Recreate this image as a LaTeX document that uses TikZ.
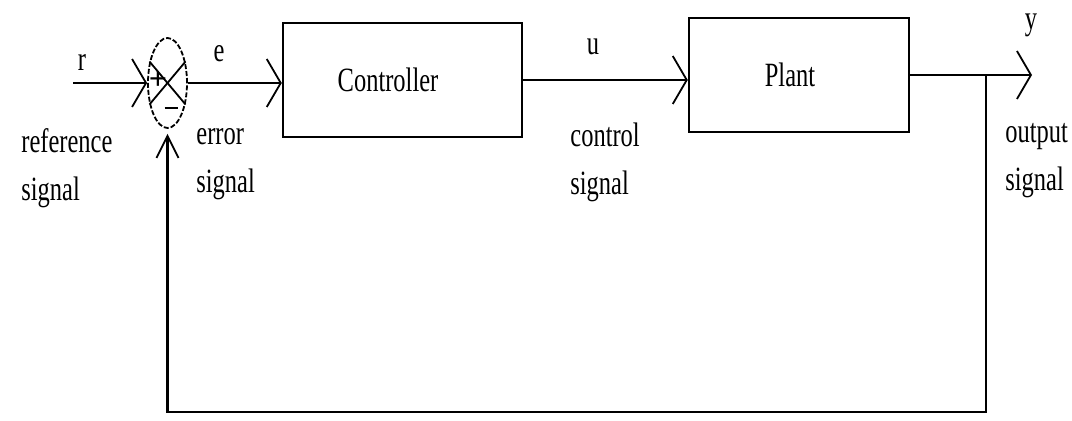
\documentclass[tikz,border=0pt]{standalone}
\usepackage{fontspec}
\setmainfont{Liberation Serif}
\newfontfamily\cond[FakeStretch=0.72]{Liberation Serif}
\usetikzlibrary{shapes.geometric,arrows.meta}
\begin{document}
\begin{tikzpicture}[x=0.5pt,y=-0.5pt,
  wire/.style={line width=1.2pt},
  arr/.style={wire,-{Straight Barb[length=7pt,width=24pt,line width=0.9pt]}},
  fbarr/.style={wire,shorten >=2.5pt,-{Straight Barb[length=11pt,width=11pt,line width=0.9pt]}},
  blk/.style={draw,line width=1.2pt,rectangle,inner sep=0pt},
  txt/.style={font=\cond\fontsize{17}{24}\selectfont,inner sep=0pt},
  lbl/.style={txt,align=left,anchor=north west},
  sign/.style={inner sep=0pt,font=\fontsize{16}{16}\selectfont},
  sumnode/.style={draw,ellipse,line width=0.9pt,dash pattern=on 2.5pt off 1pt,minimum width=19.5pt,minimum height=45pt,inner sep=0pt}
]
\useasboundingbox[fill=white] (0,0) rectangle (1072,421);

% blocks
\node[sumnode] (sum) at (167.5,83) {};
\node[blk,minimum width=119.5pt,minimum height=57pt] (ctrl) at (402.5,80) {};
\node[txt] (ctrltxt) at (388,80) {Controller};
\node[blk,minimum width=110pt,minimum height=57pt] (plant) at (799,75) {};
\node[txt] (planttxt) at (790,75) {Plant};

% X in summing junction
\draw[line width=0.9pt] (sum.130) -- (sum.-50);
\draw[line width=0.9pt] (sum.50) -- (sum.-130);
\node[sign] (plus) at (158,80) {\textbf{+}};
\node[sign] (minus) at (171,108) {\rule{6.5pt}{1pt}};

% coordinates
\coordinate (rin) at (73,83);
\coordinate (yout) at (1032,75);
\coordinate (br) at (986,75);
\coordinate (fbl) at (167.5,412);

% connectors
\draw[arr] (rin) -- (sum.west);
\draw[arr] (sum.east) -- (sum.east -| ctrl.west);
\draw[arr] (ctrl.east) -- (ctrl.east -| plant.west);
\draw[arr] (plant.east) -- (yout);
\draw[fbarr] (br) |- (fbl) -- (sum.south);

% signal letters
\node[txt] (r) at (82,62) {r};
\node[txt] (e) at (219,54) {e};
\node[txt] (u) at (593,47) {u};
\node[txt] (y) at (1031,25) {y};

% descriptions
\node[lbl] (refl) at (21,128) {reference\\signal};
\node[lbl] (errl) at (196,128) {error\\signal};
\node[lbl] (ctll) at (570,123) {control\\signal};
\node[lbl] (outl) at (1005,123) {output\\signal};
\end{tikzpicture}
\end{document}
